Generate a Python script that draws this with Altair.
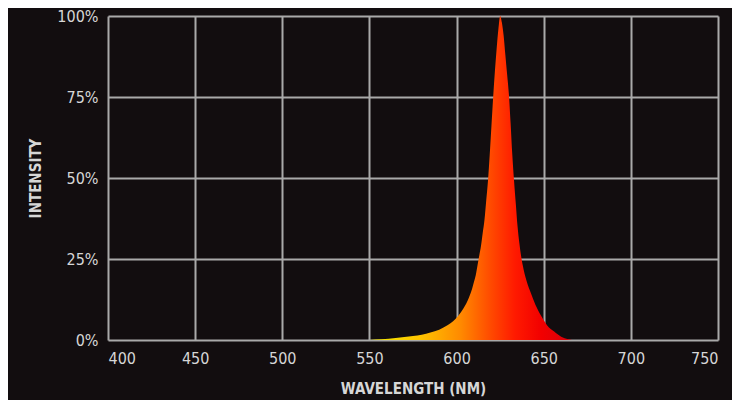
import altair as alt
import pandas as pd

# Spectrum (wavelength nm, relative intensity %)
wavelength = [550, 557, 565, 575, 580, 585, 590, 595, 598, 601, 604, 607, 609, 610, 611,
              612, 613, 614, 615, 616, 617, 618, 619, 620, 621, 622, 623, 624, 625, 626,
              627, 628, 629, 630, 631, 632, 633, 634, 635, 636, 637, 638, 640, 643, 646,
              649, 652, 656, 660, 664, 666]
intensity = [0, 0.2, 0.6, 1.2, 1.6, 2.3, 3.2, 4.6, 5.8, 7.5, 9.8, 13, 16, 18, 20,
             23, 26, 29, 33, 37, 43, 49, 57, 66, 75, 83, 90, 96, 100, 98,
             94, 88, 82, 76, 67, 57, 49, 42, 35, 30, 26, 23, 18.5, 14, 10,
             7, 4.5, 2.6, 1, 0.2, 0]

x_ticks = [400, 450, 500, 550, 600, 650, 700, 750]
y_ticks = [0, 25, 50, 75, 100]

grad_offsets = [0.0, 0.25, 0.45, 0.6, 0.72, 0.85, 1.0]
grad_colors = ["#f2ec00", "#ffc400", "#ff8a00", "#ff4a00", "#ff1a00", "#f20000", "#d8000a"]

df = pd.DataFrame({"wavelength": wavelength, "intensity": intensity})

FONT = "DejaVu Sans Condensed, Liberation Sans Narrow, Roboto, sans-serif"
GRID = "#a9a9a9"
TEXT = "#d6d6d6"
BG = "#120d0f"

chart = alt.Chart(df).mark_area(
    color=alt.Gradient(
        gradient="linear",
        stops=[alt.GradientStop(offset=o, color=c) for o, c in zip(grad_offsets, grad_colors)],
        x1=0, x2=1, y1=0, y2=0,
    ),
    interpolate="monotone",
).encode(
    x=alt.X("wavelength:Q",
            scale=alt.Scale(domain=[400, 750], nice=False, zero=False),
            axis=alt.Axis(values=x_ticks, title="WAVELENGTH (NM)", format="d",
                          labelPadding=10, titlePadding=15)),
    y=alt.Y("intensity:Q",
            scale=alt.Scale(domain=[0, 100], nice=False),
            axis=alt.Axis(values=y_ticks, title="INTENSITY",
                          labelExpr="datum.value + '%'",
                          labelPadding=10, titlePadding=13)),
).properties(
    width=610,
    height=324,
    background=BG,
    padding={"left": 100, "top": 8, "right": 14, "bottom": 60},
    autosize=alt.AutoSizeParams(type="none"),
).configure_view(
    stroke=None,
).configure_axis(
    grid=True,
    gridColor=GRID,
    gridWidth=2,
    gridOpacity=1,
    domain=False,
    ticks=False,
    labelColor=TEXT,
    labelFont=FONT,
    labelFontSize=16,
    titleColor=TEXT,
    titleFont=FONT,
    titleFontSize=15,
    titleFontWeight="bold",
)

chart.save("out.html", embed_options={"renderer": "svg", "actions": False})
